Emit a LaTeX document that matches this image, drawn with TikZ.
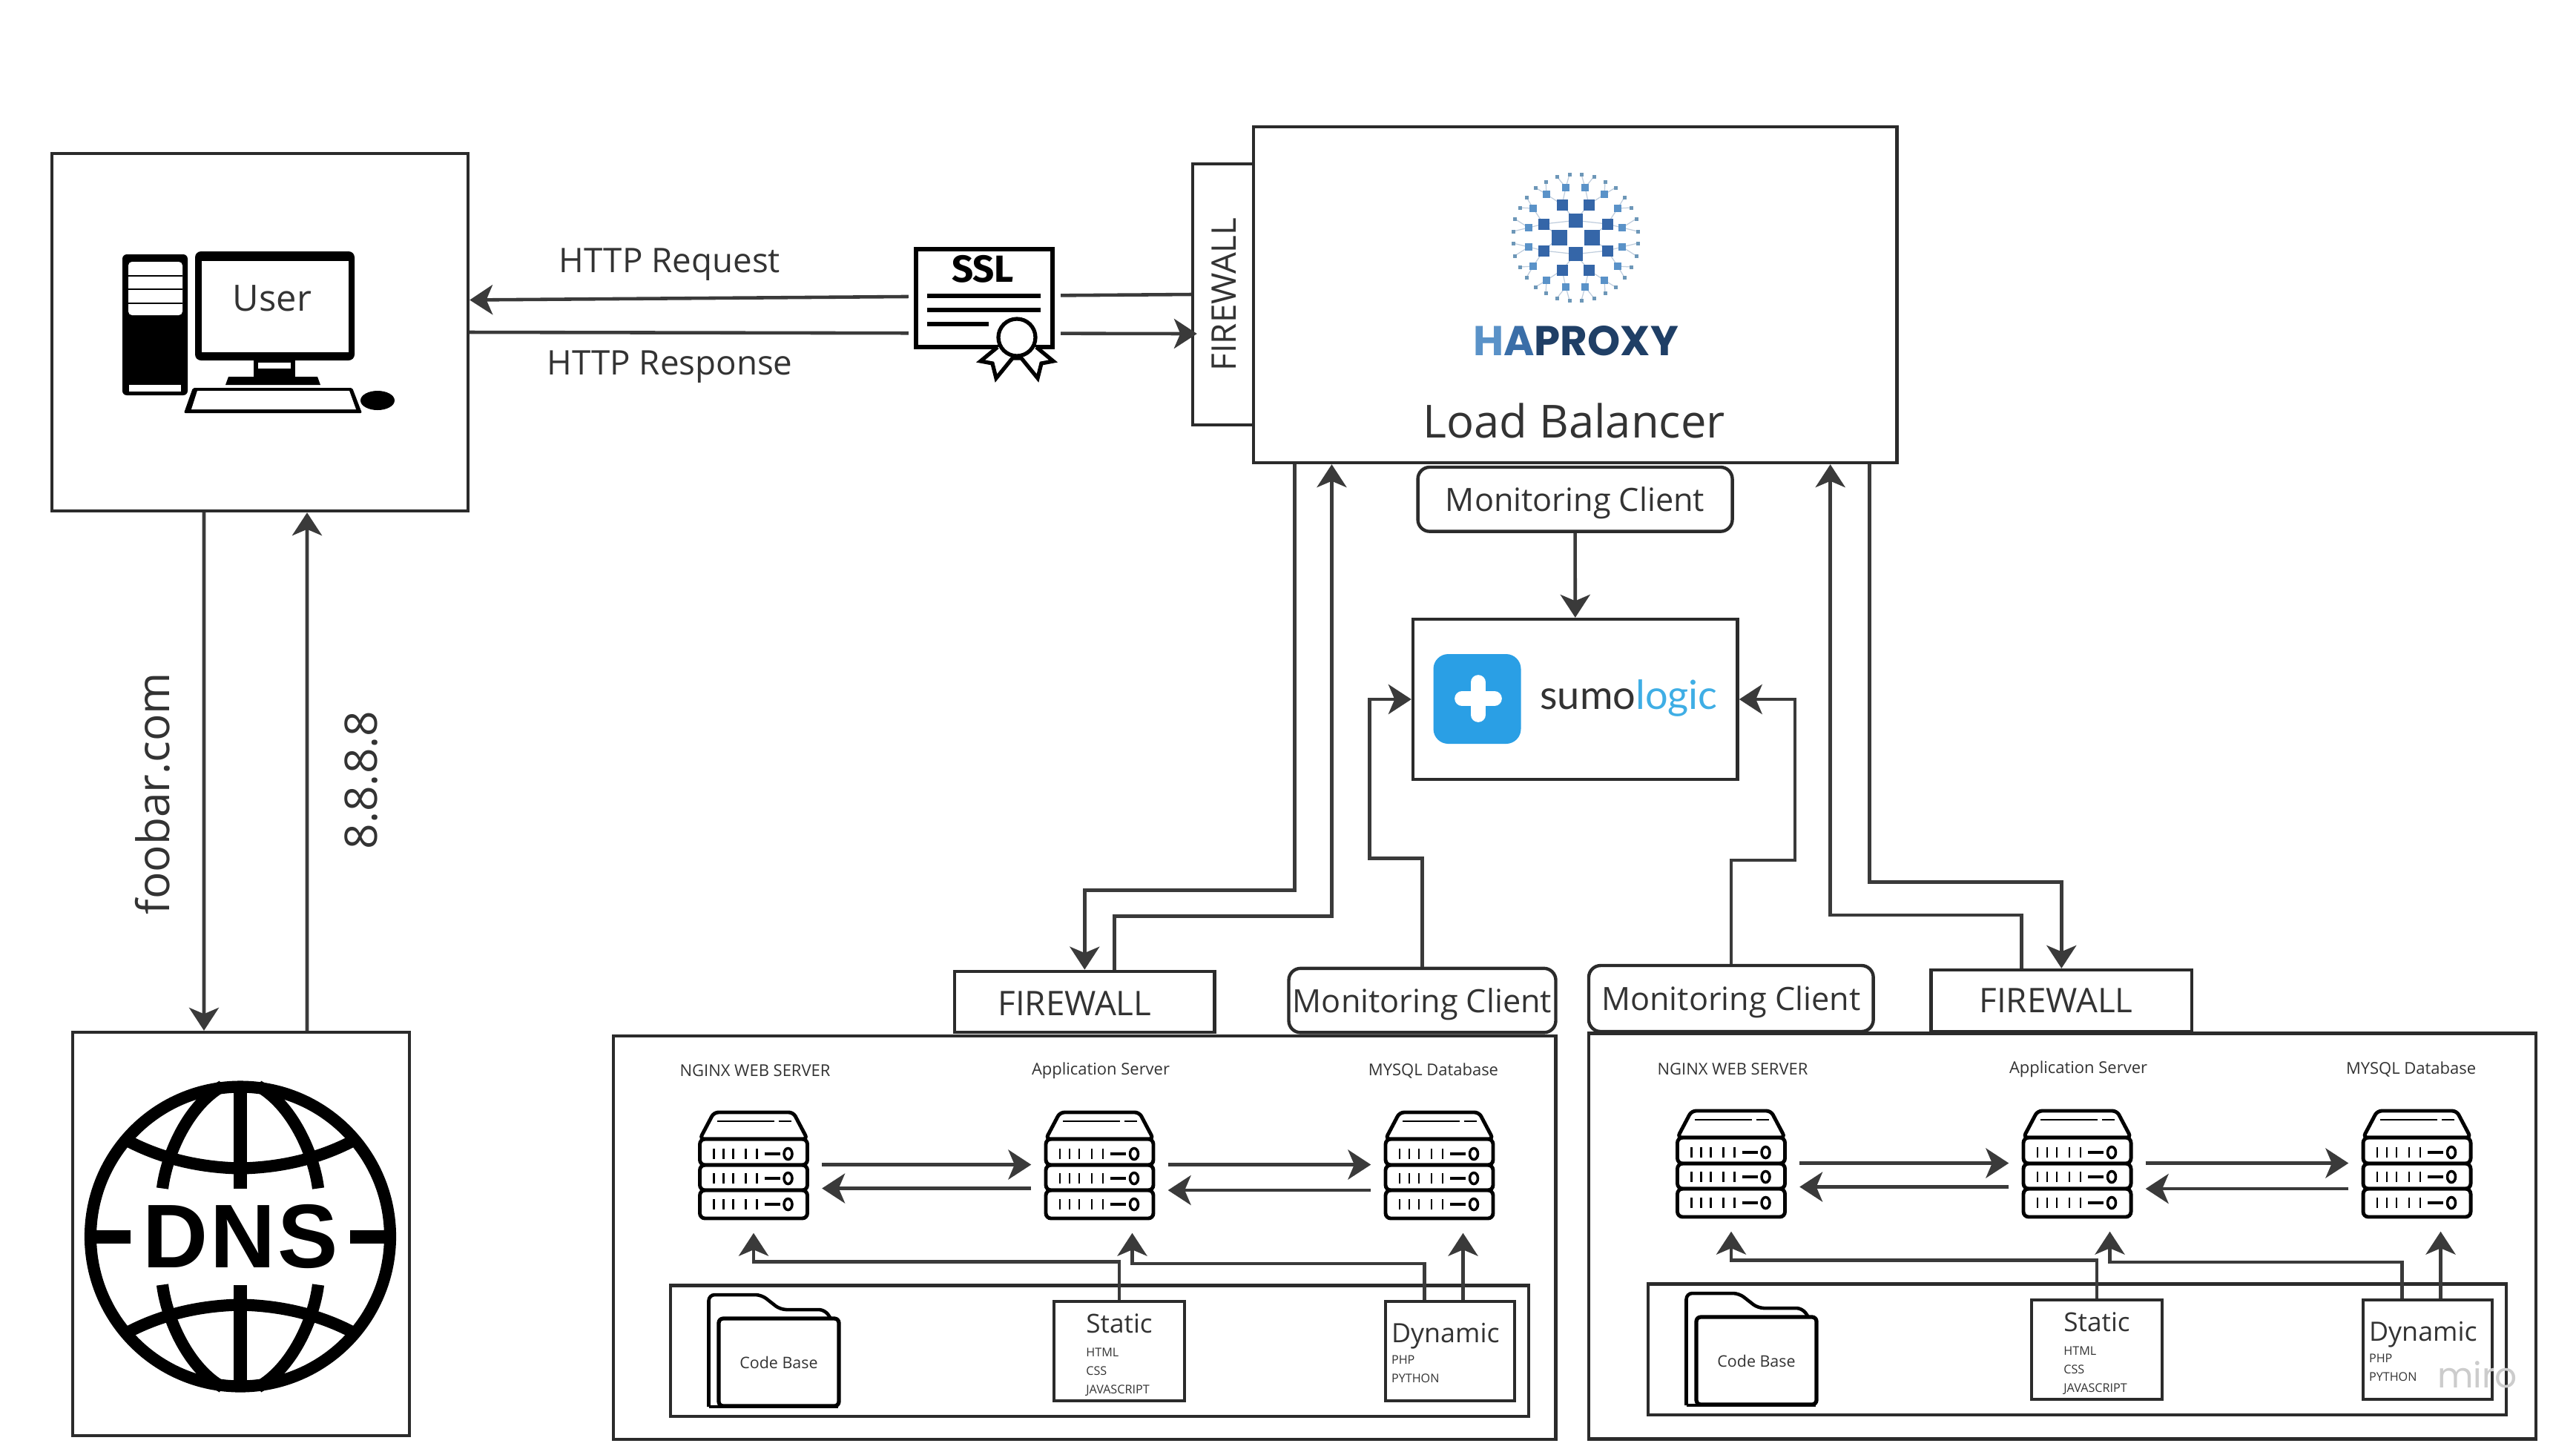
\documentclass[tikz,border=0pt]{standalone}
\usepackage{fontspec}
\setmainfont{Open Sans}
\newfontfamily\dnsfont[LetterSpace=2.5]{Liberation Sans}
\newfontfamily\sslfont{Fira Sans}
\newfontfamily\sumofont{Lato}
\newfontfamily\hapfont{Poppins}
\usetikzlibrary{arrows.meta}
\definecolor{linec}{HTML}{3A3A3A}
\definecolor{boxc}{HTML}{2B2B2B}
\definecolor{textc}{HTML}{333333}
\definecolor{hapdark}{HTML}{3566A8}
\definecolor{haplight}{HTML}{5A92C8}
\definecolor{haptiny}{HTML}{6D97B8}
\definecolor{hapline}{HTML}{BFCDDD}
\definecolor{hapnavy}{HTML}{1F3F66}
\definecolor{hapmid}{HTML}{3A6EA8}
\definecolor{sumoblue}{HTML}{2A9FE5}
\definecolor{sumotext}{HTML}{3FAEE5}
\tikzset{
  flatbox/.style={draw=boxc, line width=1.25pt, fill=white, inner sep=0pt, text=textc},
  roundbox/.style={flatbox, rounded corners=0.16cm, text depth=0pt, font=\fontsize{12.3}{14}\selectfont},
  serverbox/.style={minimum width=1.83cm, minimum height=1.83cm, inner sep=0pt},
  conn/.style={draw=linec, line width=1.3pt, ->},
  plain/.style={text=textc, inner sep=0pt},
  smalltext/.style={font=\fontsize{4.6}{7.1}\selectfont},
  iconline/.style={draw=black, line width=1.4pt},
  pics/serverpic/.style={code={
    \begin{scope}[shift={(-0.725,-0.735)}]
      \draw[iconline, fill=white, rounded corners=0.06cm] (0,0.39) -- (0.19,0.03) -- (1.26,0.03) -- (1.45,0.39) -- cycle;
      \draw[black, line width=0.8pt] (0.23,0.15) -- (1.00,0.15) (1.06,0.15) -- (1.23,0.15);
      \foreach \t/\b in {0.39/0.74, 0.74/1.08, 1.08/1.46}
        \draw[iconline, rounded corners=0.07cm] (0,\t) rectangle (1.45,\b);
      \foreach \c in {0.59, 0.92, 1.27} {
        \foreach \k in {0.19, 0.32, 0.45, 0.62, 0.77}
          \draw[black, line width=0.75pt] (\k,\c-0.07) -- (\k,\c+0.07);
        \draw[black, line width=1.2pt] (0.87,\c) -- (1.08,\c);
        \draw[black, line width=1pt] (1.19,\c) ellipse [x radius=0.055cm, y radius=0.075cm];
      }
    \end{scope}
  }},
}
\begin{document}
\begin{tikzpicture}[y=-1cm, >={Stealth[length=8.8pt, width=11.4pt, inset=2.4pt]}]
  \useasboundingbox[fill=white] (0,0) rectangle (34.73,19.53);

  \node[flatbox, minimum width=5.61cm, minimum height=4.82cm] (user) at (3.505,4.48) {};
  \node[flatbox, minimum width=4.54cm, minimum height=5.44cm] (dns) at (3.248,16.64) {};
  \node[flatbox, rotate=90, minimum width=3.52cm, minimum height=0.82cm] (fwlb) at (16.49,3.97) {};
  \node[flatbox, minimum width=8.675cm, minimum height=4.53cm] (lb) at (21.2375,3.975) {};
  \node[roundbox, minimum width=4.24cm, minimum height=0.867cm] (monlb) at (21.2355,6.733) {Monitoring Client};
  \node[flatbox, minimum width=4.376cm, minimum height=2.16cm] (sumo) at (21.238,9.43) {};

  \node[flatbox, minimum width=12.704cm, minimum height=5.443cm] (srvA) at (14.622,16.69) {};
  \node[flatbox, minimum width=12.77cm, minimum height=5.473cm] (srvB) at (27.805,16.67) {};
  \node[flatbox, minimum width=3.506cm, minimum height=0.825cm] (fwA) at (14.623,13.51) {};
  \node[flatbox, minimum width=3.513cm, minimum height=0.83cm] (fwB) at (27.793,13.495) {};
  \node[roundbox, minimum width=3.6cm, minimum height=0.866cm] (monA) at (19.175,13.491) {Monitoring Client};
  \node[roundbox, minimum width=3.837cm, minimum height=0.89cm] (monB) at (23.338,13.465) {Monitoring Client};
  \node[plain, rotate=90, font=\fontsize{13}{15}\selectfont] (fwlbtext) at (16.50,3.97) {FIREWALL};
  \node[plain, font=\fontsize{13}{15}\selectfont] (fwAtext) at (14.49,13.53) {FIREWALL};
  \node[plain, font=\fontsize{13}{15}\selectfont] (fwBtext) at (27.72,13.49) {FIREWALL};

  \foreach \g/\dx/\dy in {A/0/0, B/13.18/-0.02} {
    \begin{scope}[shift={(\dx,\dy)}]
      \node[flatbox, minimum width=11.57cm, minimum height=1.765cm] (stor\g) at (14.8235,18.2175) {};
      \node[flatbox, smalltext, minimum width=1.76cm, minimum height=1.34cm, align=left] (static\g) at (15.09,18.22)
        {\rule{0pt}{10pt}{\fontsize{10}{10}\selectfont Static}\\[2pt]HTML\\CSS\\JAVASCRIPT};
      \node[flatbox, smalltext, minimum width=1.74cm, minimum height=1.34cm, align=left, text width=1.58cm] (dyn\g) at (19.55,18.22)
        {\rule{0pt}{9pt}{\fontsize{10.2}{10.2}\selectfont Dynamic}\\[1.2pt]PHP\\PYTHON};
      \draw[black, line width=1.3pt, rounded corners=0.08cm, fill=white] (9.555,18.97) -- (9.555,17.46) -- (10.265,17.46) -- (10.52,17.66) -- (11.12,17.66) -- (11.2,17.78);
      \draw[black, line width=1.3pt, rounded corners=0.06cm] (9.555,18.97) -- (11.3,18.97);
      \node[draw=black, line width=1.5pt, fill=white, rounded corners=0.06cm, minimum width=1.62cm, minimum height=1.18cm, inner sep=0pt, text=textc, font=\fontsize{6.1}{7}\selectfont] (code\g) at (10.5,18.37) {Code Base};

      \node[serverbox] (nginx\g) at (10.16,15.705) {};
      \node[serverbox] (app\g) at (14.825,15.705) {};
      \node[serverbox] (mysql\g) at (19.405,15.705) {};
      \pic at (nginx\g.center) {serverpic};
      \pic at (app\g.center) {serverpic};
      \pic at (mysql\g.center) {serverpic};
      \node[plain, font=\fontsize{6.25}{7}\selectfont] (nginxlabel\g) at (10.18,14.44) {NGINX WEB SERVER};
      \node[plain, font=\fontsize{6.25}{7}\selectfont] (applabel\g) at (14.84,14.44) {Application Server};
      \node[plain, font=\fontsize{6.25}{7}\selectfont] (mysqllabel\g) at (19.325,14.44) {MYSQL Database};

      \draw[conn] (nginx\g.east) -- (app\g.west);
      \draw[conn] (app\g.east) -- (mysql\g.west);
      \draw[conn] ([yshift=-0.32cm]app\g.west) -- ([yshift=-0.32cm]nginx\g.east);
      \draw[conn] ([yshift=-0.345cm]mysql\g.west) -- ([yshift=-0.345cm]app\g.east);
      \draw[conn] (static\g.north) -- ++(0,-0.515) -| (nginx\g.south);
      \draw[conn] ([xshift=-0.345cm]dyn\g.north) -- ++(0,-0.49) -| ([xshift=0.44cm]app\g.south);
      \draw[conn] ([xshift=0.175cm]dyn\g.north) -- ([xshift=0.32cm]mysql\g.south);
    \end{scope}
  }

  \draw[conn] ([xshift=-0.755cm]user.south) -- ([xshift=-0.498cm]dns.north);
  \draw[conn] ([xshift=0.892cm]dns.north) -- ([xshift=0.635cm]user.south);
  \node[plain, rotate=90, font=\fontsize{17.2}{19}\selectfont] (foobar) at (2.06,10.70) {foobar.com};
  \node[plain, rotate=90, font=\fontsize{17.2}{19}\selectfont] (eights) at (4.87,10.52) {8.8.8.8};

  \draw[conn] (fwlb.north) -- ([yshift=0.435cm]user.east);
  \draw[conn, shorten >=-0.08cm] (user.east) -- ([yshift=-0.53cm]fwlb.north);
  \node[plain, font=\fontsize{13}{15}\selectfont] (httpreq) at (9.03,3.57) {HTTP Request};
  \node[plain, font=\fontsize{13}{15}\selectfont] (httpres) at (9.03,4.95) {HTTP Response};

  \draw[conn] (monlb.south) -- (sumo.north);
  \draw[conn] (monA.north) -- ++(0,-1.46) -- ++(-0.71,0) |- (sumo.west);
  \draw[conn] (monB.north) -- ++(0,-1.40) -- ++(0.86,0) |- (sumo.east);
  \draw[conn] ([xshift=-3.78cm]lb.south) -- ++(0,5.74) -| (fwA.north);
  \draw[conn] ([xshift=0.40cm]fwA.north) -- ++(0,-0.72) -| ([xshift=-3.283cm]lb.south);
  \draw[conn] ([xshift=-0.54cm]fwB.north) -- ++(0,-0.72) -| ([xshift=3.439cm]lb.south);
  \draw[conn] ([xshift=3.968cm]lb.south) -- ++(0,5.63) -| (fwB.north);

  % computer
  \fill[black, rounded corners=0.06cm] (1.65,3.43) rectangle (2.53,5.33);
  \fill[white, rounded corners=0.05cm] (1.73,3.53) rectangle (2.46,4.25);
  \fill[white] (1.74,5.19) rectangle (2.44,5.28);
  \foreach \k in {3.72, 3.90, 4.09}
    \draw[black, line width=0.7pt] (1.73,\k) -- (2.46,\k);
  \fill[black, rounded corners=0.08cm] (2.63,3.39) rectangle (4.78,4.86);
  \fill[white] (2.72,3.52) rectangle (4.70,4.75);
  \fill[black] (3.42,4.86) rectangle (3.98,5.10);
  \fill[white] (3.48,4.89) rectangle (3.92,4.97);
  \fill[black] (3.08,5.08) -- (4.28,5.08) -- (4.32,5.19) -- (3.04,5.19) -- cycle;
  \fill[black, rounded corners=0.02cm] (2.60,5.23) -- (4.75,5.23) -- (4.88,5.57) -- (2.48,5.57) -- cycle;
  \fill[white] (2.66,5.27) -- (4.71,5.27) -- (4.80,5.52) -- (2.58,5.52) -- cycle;
  \fill[black] (5.09,5.40) ellipse [x radius=0.23cm, y radius=0.13cm];
  \node[plain, font=\fontsize{13.9}{15}\selectfont] (usertext) at (3.67,4.02) {User};

  % ssl certificate
  \node[fill=white, minimum width=2.05cm, minimum height=2.1cm, inner sep=0pt] (ssl) at (13.275,4.2) {};
  \draw[black, line width=1.7pt] (12.35,3.36) rectangle (14.19,4.68);
  \draw[black, line width=1.9pt] (12.50,3.99) -- (14.03,3.99) (12.50,4.18) -- (14.03,4.18) (12.50,4.37) -- (13.33,4.37);
  \node[font=\sslfont\bfseries\fontsize{14.5}{15}\selectfont, text=black, inner sep=0pt] (ssltext) at (13.25,3.63) {SSL};
  \draw[black, line width=1.5pt, fill=white, line join=miter] (13.45,4.68) -- (13.22,4.87) -- (13.38,4.90) -- (13.43,5.10) -- (13.65,4.83) -- (13.77,4.83) -- (13.99,5.10) -- (14.04,4.90) -- (14.20,4.87) -- (13.97,4.68);
  \draw[black, line width=1.5pt, fill=white] (13.71,4.55) circle (0.25cm);

  % dns globe
  \draw[black, line width=4.6pt] (3.24,16.675) circle (2.02cm);
  \foreach \sx/\sy in {1/1, -1/1, 1/-1, -1/-1} {
    \begin{scope}[shift={(3.24,16.675)}, xscale=\sx, yscale=\sy]
      \draw[black, line width=4.6pt] (-0.24,-2.03) .. controls (-0.69,-1.78) and (-0.99,-1.13) .. (-1.05,-0.65);
      \draw[black, line width=4.6pt] (-1.59,-1.33) .. controls (-1.09,-1.05) and (-0.54,-0.93) .. (0,-0.92);
      \draw[black, line width=4.9pt] (0,-2.03) -- (0,-0.65);
      \draw[black, line width=5.1pt] (-1.99,0) -- (-1.48,0);
    \end{scope}
  }
  \node[font=\dnsfont\bfseries\fontsize{34.7}{36}\selectfont, text=black, inner sep=0pt] (dnstext) at (3.24,16.675) {DNS};

  % haproxy logo
  \begin{scope}[shift={(21.24,3.20)}]
    \foreach \sx in {-1,1} \foreach \sy in {-1,1} {
      \foreach \a/\b/\c/\d in {0/0.227/0.18/0.44, 0.22/0/0.43/0.18, 0/0.227/0.43/0.18, 0.18/0.44/0.13/0.67, 0.18/0.44/0.39/0.58, 0.43/0.18/0.57/0.39, 0.43/0.18/0.63/0.13, 0.13/0.67/0.08/0.85, 0.13/0.67/0.25/0.82, 0.39/0.58/0.40/0.75, 0.39/0.58/0.54/0.67, 0.57/0.39/0.66/0.54, 0.57/0.39/0.75/0.40, 0.63/0.13/0.82/0.25, 0.63/0.13/0.84/0.08}
        \draw[hapline, line width=0.35pt] (\sx*\a,\sy*\b) -- (\sx*\c,\sy*\d);
      \foreach \a/\b/\s/\c in {0/0.227/0.19/hapdark, 0.22/0/0.21/hapdark, 0.18/0.44/0.15/hapdark, 0.43/0.18/0.15/hapdark, 0.13/0.67/0.10/haplight, 0.39/0.58/0.10/haplight, 0.57/0.39/0.10/haplight, 0.63/0.13/0.10/haplight, 0.08/0.85/0.05/haptiny, 0.25/0.82/0.05/haptiny, 0.40/0.75/0.05/haptiny, 0.54/0.67/0.05/haptiny, 0.66/0.54/0.05/haptiny, 0.75/0.40/0.05/haptiny, 0.82/0.25/0.05/haptiny, 0.84/0.08/0.05/haptiny}
        \fill[\c] ({\sx*\a-\s/2},{\sy*\b-\s/2}) rectangle ++(\s,\s);
    }
  \end{scope}
  \node[font=\hapfont\bfseries\fontsize{16}{17}\selectfont, inner sep=0pt] (haptext) at (21.245,4.60) {\textcolor{haplight}{H}\textcolor{hapmid}{A}\textcolor{hapnavy}{PROXY}};
  \node[plain, font=\fontsize{17.5}{19}\selectfont] (lbtext) at (21.22,5.67) {Load Balancer};

  % sumologic logo
  \fill[sumoblue, rounded corners=0.2cm] (19.325,8.82) rectangle (20.505,10.03);
  \draw[white, line width=5.6pt, line cap=round] (19.71,9.42) -- (20.15,9.42) (19.93,9.20) -- (19.93,9.64);
  \node[font=\sumofont\fontsize{15.4}{17}\selectfont, inner sep=0pt, text=textc] (sumolabel) at (21.96,9.41) {sumo\textcolor{sumotext}{logic}};

  \node[font=\hapfont\fontsize{13.4}{15}\selectfont, text=black!20, inner sep=0pt] (miro) at (33.40,18.54) {miro};
\end{tikzpicture}
\end{document}
